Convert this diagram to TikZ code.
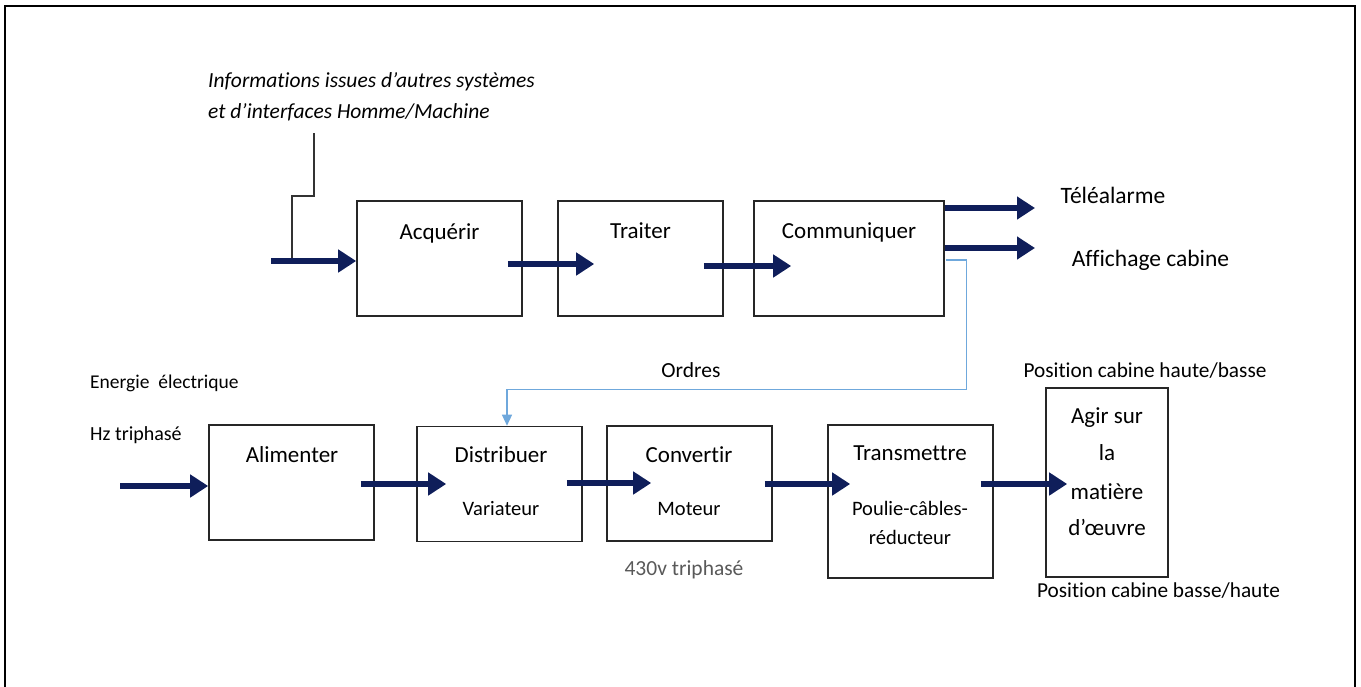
\documentclass[tikz,border=0pt]{standalone}
\usepackage{fontspec}
\setmainfont{Carlito}[Ligatures=CommonOff]
\usetikzlibrary{arrows.meta,calc}
\definecolor{navy}{HTML}{0F1E5A}
\definecolor{ordblue}{HTML}{6FA8DC}
\definecolor{txtgray}{HTML}{595959}
\tikzset{
  box/.style={draw=black!85,line width=1.6pt,inner sep=0pt,minimum width=165pt,minimum height=115pt},
  txt/.style={inner sep=0pt,font=\fontsize{23}{27}\selectfont,text height=1.5ex,text depth=.25ex,yshift=-4.5pt},
  sub/.style={txt,font=\fontsize{20.5}{24}\selectfont},
  bigarrow/.style={navy,line width=6.5pt,-{Triangle[length=18pt,width=22pt]}},
  thin/.style={black!80,line width=1.1pt},
  ordre/.style={ordblue,line width=1.3pt,-{Triangle[length=11pt,width=10pt]}},
}
\begin{document}
\begin{tikzpicture}[x=1pt,y=-1pt]
\useasboundingbox (0,0) rectangle (1361,686);
% outer frame
\draw[black,line width=2.6pt] (5,690) -- (5,6) -- (1355,6) -- (1355,690);

% boxes
\node[box] (acq) at (439.5,258.5) {};
\node[box] (tra) at (640.5,258.5) {};
\node[box,minimum width=190pt] (com) at (849,258.5) {};
\node[box] (ali) at (291.5,482.5) {};
\node[box] (dis) at (499.5,484) {};
\node[box] (con) at (689.5,483.5) {};
\node[box,minimum height=153pt] (trn) at (910.5,501.5) {};
\node[box,minimum width=122pt,minimum height=189pt] (agi) at (1107,482.5) {};

% box texts
\node[txt] (tacq) at (439.5,232) {Acquérir};
\node[txt] (ttra) at (640.5,231) {Traiter};
\node[txt] (tcom) at (849,231) {Communiquer};
\node[txt] (tali) at (292,455) {Alimenter};
\node[txt] (tdis) at (501,455) {Distribuer};
\node[sub] (tvar) at (501,508) {Variateur};
\node[txt] (tcon) at (689,455) {Convertir};
\node[sub] (tmot) at (689,508) {Moteur};
\node[txt] (ttrn) at (910,453) {Transmettre};
\node[sub] (tpou) at (910,508) {Poulie-câbles-};
\node[sub] (tred) at (910,537) {réducteur};
\node[txt] (tag1) at (1107,416) {Agir sur};
\node[txt] (tag2) at (1107,453) {la};
\node[txt] (tag3) at (1107,492) {matière};
\node[txt] (tag4) at (1107,528) {d’œuvre};

% side texts
\node[txt,anchor=west,font=\itshape\fontsize{21.5}{26}\selectfont] (inf1) at (208,80) {Informations issues d’autres systèmes};
\node[txt,anchor=west,font=\itshape\fontsize{21.5}{26}\selectfont] (inf2) at (208,111) {et d’interfaces Homme/Machine};
\node[txt,font=\fontsize{23.5}{28}\selectfont] (tele) at (1113,196) {Téléalarme};
\node[txt,font=\fontsize{23.5}{28}\selectfont] (affi) at (1150.5,259) {Affichage cabine};
\node[txt,font=\fontsize{21.5}{26}\selectfont] (ord) at (691,370) {Ordres};
\node[txt,anchor=west,font=\fontsize{19.5}{23}\selectfont] (ener) at (90,381) {Energie\ \ électrique};
\node[txt,anchor=west,font=\fontsize{20}{24}\selectfont] (hz) at (90,433) {Hz triphasé};
\node[txt,text=txtgray,font=\fontsize{21.5}{26}\selectfont] (v430) at (684,568) {430v triphasé};
\node[txt,font=\fontsize{21.3}{25}\selectfont] (pos1) at (1145,370) {Position cabine haute/basse};
\node[txt,font=\fontsize{21.3}{25}\selectfont] (pos2) at (1158.5,590) {Position cabine basse/haute};

% coordinates for free ends
\coordinate (inA) at (271,261);
\coordinate (inE) at (120,486);
\coordinate (outT) at (1035,208);
\coordinate (outA) at (1035,248);
\coordinate (infTop) at (314,133);

% information line
\draw[thin] (infTop) -- (314,196) -- (292,196) -- (292,261);

% big arrows
\draw[bigarrow] (inA) -- (inA -| acq.west);
\draw[bigarrow] ($(acq.east)+(-15,5.5)$) -- ($(tra.west)+(37,5.5)$);
\draw[bigarrow] ($(tra.east)+(-20,7.5)$) -- ($(com.west)+(38,7.5)$);
\draw[bigarrow] (outT -| com.east) -- (outT);
\draw[bigarrow] (outA -| com.east) -- (outA);
\draw[bigarrow] (inE) -- (inE -| ali.west);
\draw[bigarrow] ($(ali.east)+(-14,1.5)$) -- ($(dis.west)+(30,0)$);
\draw[bigarrow] ($(dis.east)+(-16,-1)$) -- ($(con.west)+(45,-0.5)$);
\draw[bigarrow] ($(con.east)+(-8,0.5)$) -- ($(trn.west)+(23,-17.5)$);
\draw[bigarrow] ($(trn.east)+(-13,-17.5)$) -- ($(agi.west)+(22,1.5)$);

% ordres line
\draw[ordre] ($(com.east)+(1,1.5)$) -- ++(21,0) |- ($(dis.north)+(7.5,-36)$) -- ($(dis.north)+(7.5,0)$);
\end{tikzpicture}
\end{document}
